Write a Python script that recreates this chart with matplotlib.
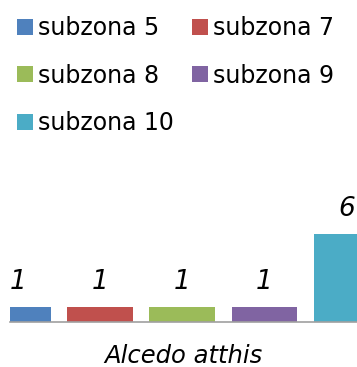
import matplotlib
matplotlib.use("Agg")
import matplotlib.pyplot as plt

# data
zones = ["subzona 5", "subzona 7", "subzona 8", "subzona 9", "subzona 10"]
counts = [1, 1, 1, 1, 6]
colors = ["#4F81BD", "#C0504D", "#9BBB59", "#8064A2", "#4BACC6"]
species = "Alcedo atthis"

plt.rcParams['font.family'] = ['DejaVu Sans']

fig = plt.figure(figsize=(3.57, 3.67), dpi=100)
ax = fig.add_axes([10/357, 45/367, 347/357, 172/367])

bars = []
for i in range(len(zones)):
    b = ax.bar(i, counts[i], width=0.80, color=colors[i], label=zones[i])
    bars.append(b)
    ax.annotate(str(counts[i]), (i, counts[i]), xytext=(0, 13),
                textcoords="offset points", ha="center", va="baseline",
                fontsize=19, style="italic", annotation_clip=False)

ax.set_xlim(-0.095, 4.126)
ax.set_ylim(0, 172/14.7)
ax.set_xticks([])
ax.set_yticks([])
for s in ["top", "left", "right"]:
    ax.spines[s].set_visible(False)
ax.spines["bottom"].set_color("#A0A0A0")
ax.spines["bottom"].set_linewidth(1.2)
ax.set_xlabel(species, fontsize=17.5, style="italic", labelpad=16)

# legend: column-major order so rows read 5/7, 8/9, 10
order = [0, 2, 4, 1, 3]
fig.legend([bars[k] for k in order], [zones[k] for k in order],
           loc="upper left", bbox_to_anchor=(17/357, 1 - 16/367),
           ncol=2, frameon=False, fontsize=17, borderpad=0,
           handlelength=0.68, handleheight=0.68, handletextpad=0.21,
           labelspacing=1.0, columnspacing=0.76, borderaxespad=0)

fig.savefig("out.png", dpi=100)
